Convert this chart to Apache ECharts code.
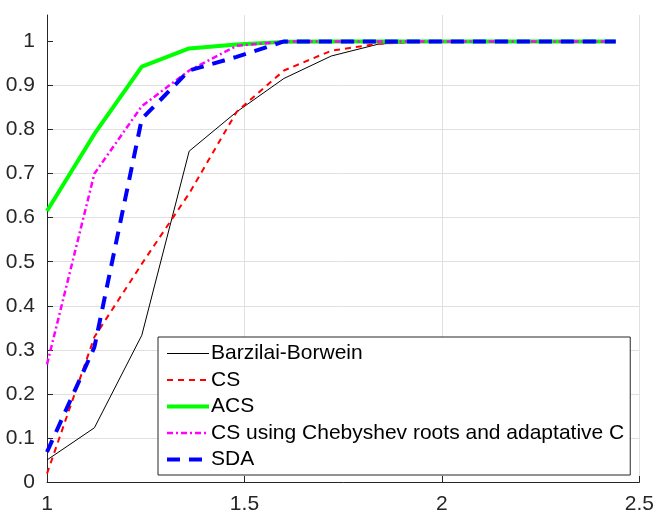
<!DOCTYPE html>
<html>
<head>
<meta charset="utf-8">
<script src="https://cdn.jsdelivr.net/npm/echarts@6/dist/echarts.min.js"></script>
<style>
  html, body { margin: 0; padding: 0; background: #fff; }
  #chart { width: 657px; height: 515px; }
</style>
</head>
<body>
<div id="chart"></div>
<script>
// performance profile data
const ratios = [1, 1.12, 1.24, 1.36, 1.48, 1.6, 1.72, 1.84, 1.96, 2.08, 2.2, 2.32, 2.44];
const barzilai = [0.05, 0.123, 0.333, 0.751, 0.84, 0.916, 0.967, 0.994, 1, 1, 1, 1, 1];
const cs = [0.019, 0.329, 0.495, 0.655, 0.84, 0.934, 0.979, 0.995, 1, 1, 1, 1, 1];
const acs = [0.615, 0.79, 0.943, 0.984, 0.993, 0.999, 1, 1, 1, 1, 1, 1, 1];
const csCheb = [0.267, 0.7, 0.853, 0.934, 0.99, 1, 1, 1, 1, 1, 1, 1, 1];
const sda = [0.068, 0.306, 0.824, 0.934, 0.965, 1, 1, 1, 1, 1, 1, 1, 1];
const yTicks = [0, 0.1, 0.2, 0.3, 0.4, 0.5, 0.6, 0.7, 0.8, 0.9, 1];
const xTicks = [1, 1.5, 2, 2.5];

const names = [
  'Barzilai-Borwein',
  'CS',
  'ACS',
  'CS using Chebyshev roots and adaptative C',
  'SDA',
];

const toPairs = (ys) => ratios.map((x, i) => [x, ys[i]]);

const chart = echarts.init(document.getElementById('chart'));
const font = '"Liberation Sans", Arial, Helvetica, sans-serif';
const axisColor = '#262626';
const gridColor = '#e0e0e0';

const lineSeries = (name, ys, color, width, type) => ({
  name: name,
  type: 'line',
  data: toPairs(ys),
  symbol: 'none',
  silent: true,
  animation: false,
  itemStyle: { color: color },
  lineStyle: { color: color, width: width, type: type },
});

const option = {
  backgroundColor: '#fff',
  animation: false,
  grid: { left: 47, right: 16, top: 15, bottom: 30 },
  legend: {
    orient: 'vertical',
    left: 158,
    top: 337,
    data: names,
    itemWidth: 42,
    itemHeight: 14,
    itemGap: 5.5,
    padding: [6, 6, 5, 7],
    backgroundColor: '#fff',
    borderColor: axisColor,
    borderWidth: 1,
    borderRadius: 0,
    // hide the dot that echarts puts in the middle of line icons
    itemStyle: { opacity: 0 },
    lineStyle: { width: 'inherit', type: 'inherit' },
    textStyle: { fontFamily: font, fontSize: 21, color: '#000', padding: [0, 0, 0, -3] },
  },
  xAxis: {
    type: 'value',
    min: 1,
    max: 2.5,
    interval: 0.5,
    axisLine: { show: true, onZero: false, lineStyle: { color: axisColor, width: 1 } },
    axisTick: { show: true, inside: true, length: 6, lineStyle: { color: axisColor } },
    axisLabel: {
      customValues: xTicks,
      color: axisColor,
      fontFamily: font,
      fontSize: 21,
      margin: 12,
    },
    splitLine: { show: true, lineStyle: { color: gridColor, width: 1 } },
  },
  yAxis: {
    type: 'value',
    min: 0,
    max: 1.06,
    interval: 0.1,
    axisLine: { show: true, lineStyle: { color: axisColor, width: 1 } },
    axisTick: { show: true, inside: true, length: 6, customValues: yTicks, lineStyle: { color: axisColor } },
    axisLabel: {
      customValues: yTicks,
      color: axisColor,
      fontFamily: font,
      fontSize: 21,
      margin: 12,
    },
    splitLine: { show: true, showMaxLine: false, lineStyle: { color: gridColor, width: 1 } },
  },
  series: [
    lineSeries(names[0], barzilai, '#000000', 1, 'solid'),
    lineSeries(names[1], cs, '#ff0000', 2, [6, 5]),
    lineSeries(names[2], acs, '#00ff00', 4, 'solid'),
    lineSeries(names[3], csCheb, '#ff00ff', 2.5, [6, 3, 2, 3]),
    lineSeries(names[4], sda, '#0000ff', 4, [13, 9]),
  ],
};

chart.setOption(option);
</script>
</body>
</html>
